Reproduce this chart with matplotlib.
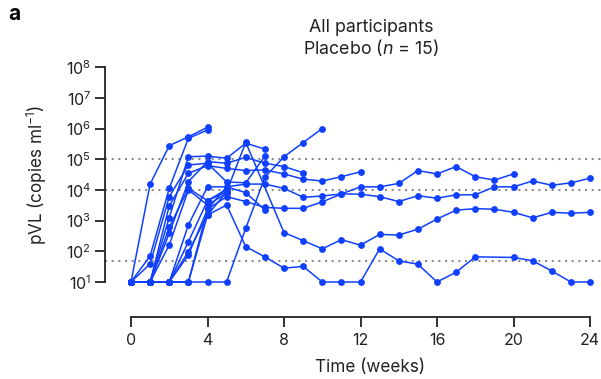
import numpy as np
import matplotlib
matplotlib.use("Agg")
import matplotlib.pyplot as plt

plt.rcParams['font.family'] = ['Inter', 'DejaVu Sans']
plt.rcParams['mathtext.fontset'] = 'custom'
plt.rcParams['mathtext.rm'] = 'Inter'
plt.rcParams['mathtext.it'] = 'Inter:italic'

# log10 pVL per participant, index = week (None = no sample)
p_A = [1, 4.19, 5.44, 5.73, 6.04]
p_B = [1, 1.85, 4.05, 5.68, 5.95]
p_C = [1, 1, 1, 1, 1, 1, 2.75, 4.41, 5.08, 5.54, 6.0]
p_D = [1, 1, 3.48, 4.54, 4.79, 4.70, 4.63, 4.65, 4.52, 4.35, 4.29, 4.43, 4.59]
p_E = [1, 1, 2.59, 4.27, 4.92, 4.87, 5.06, 4.87, 4.76, 4.56]
p_F = [1, 1, 3.10, 5.08, 5.10, 5.03, 5.52, 5.33]
p_G = [1, 1.59, 3.78, 4.81, 4.87, 4.26, 4.23, 5.10]
p_H = [1, 1, 1, 2.86, 4.10, 4.10, 3.91, 3.35]
p_I = [1, 1, 2.78, 4.05, 3.65, 3.94]
p_J = [1, 1, 2.21, 4.00, 3.51, 3.89]
p_K = [1, 1, 1, 2.31, 3.65, 4.02]
p_P = [1, 1, 1, 1.88, 3.37, 3.78, 3.62, 3.43, 3.40, 3.40, 3.61, 3.87, 4.10,
       4.10, 4.21, 4.63, 4.52, 4.76, 4.43, 4.32, 4.52]
p_Q = [1, 1, 1, 1, 3.37, 4.10, 4.19, 4.19, 4.05, 3.76, 3.80, 3.87, 3.86,
       3.78, 3.62, 3.81, 3.73, 3.84, 3.84, 4.10, 4.10, 4.29, 4.15, 4.23, 4.38]
p_T3 = [1, 1, 1, 1.99, 3.18, 3.94, 5.55, None, 2.61, 2.35, 2.08, 2.38, 2.20,
        2.55, 2.53, 2.72, 3.05, 3.34, 3.39, 3.37, 3.27, 3.09, 3.27, 3.24, 3.27]
p_T4 = [1, 1, 1, 1, 3.18, 3.51, 2.15, 1.82, 1.45, 1.51, 1, 1, 1,
        2.08, 1.69, 1.58, 1, 1.32, 1.82, None, 1.80, 1.69, 1.36, 1, 1]

participants = [p_A, p_B, p_C, p_D, p_E, p_F, p_G, p_H, p_I, p_J, p_K,
                p_P, p_Q, p_T3, p_T4]

thresholds = [1e5, 1e4, 50]
xticks = [0, 4, 8, 12, 16, 20, 24]
yticks = [1e1, 1e2, 1e3, 1e4, 1e5, 1e6, 1e7, 1e8]
ytick_labels = [r'$10^{%d}$' % i for i in range(1, 9)]

W, H = 601, 379
fig = plt.figure(figsize=(W / 100, H / 100), dpi=100)
l, r, b, t = 105, 597, 316.7, 67
ax = fig.add_axes([l / W, (H - b) / H, (r - l) / W, (b - t) / H])

blue = '#1040ff'
for p in participants:
    wk = [i for i, v in enumerate(p) if v is not None]
    vals = [10 ** p[i] for i in wk]
    ax.plot(wk, vals, '-o', color=blue, lw=1.1, ms=3.9, clip_on=False, zorder=3)

for th in thresholds:
    ax.axhline(th, xmin=0.0, xmax=1.01, color='#8c8c8c', lw=1.5,
               ls=(0, (1, 2.2)), clip_on=False, zorder=1)

ax.set_yscale('log')
x0 = (l - 131) / 19.125
x1 = (r - 131) / 19.125
ax.set_xlim(x0, x1)
ylo = 1 - (b - 282) / 30.7
yhi = 1 + (282 - t) / 30.7
ax.set_ylim(10 ** ylo, 10 ** yhi)

for s in ['top', 'right']:
    ax.spines[s].set_visible(False)
ax.spines['left'].set_bounds(1e1, 1e8)
ax.spines['bottom'].set_bounds(0, 24)
for s in ['left', 'bottom']:
    ax.spines[s].set_linewidth(1.3)
    ax.spines[s].set_color('#222222')

ax.set_xticks(xticks)
ax.set_xticklabels([str(x) for x in xticks])
ax.set_yticks(yticks)
ax.set_yticklabels(ytick_labels)
ax.yaxis.set_minor_locator(matplotlib.ticker.LogLocator(base=10, subs=np.arange(2, 10)))
ax.yaxis.set_minor_formatter(matplotlib.ticker.NullFormatter())
ax.tick_params(axis='both', which='major', length=7, width=1.3, color='#222222',
               labelsize=11.5, labelcolor='#222222')
ax.tick_params(axis='y', which='major', pad=3)
ax.tick_params(axis='x', which='major', pad=5)
ax.tick_params(axis='y', which='minor', length=4, width=1.0, color='#222222')

fig.text(371 / W, 1 - 32 / H, 'All participants', ha='center', va='baseline',
         fontsize=12.8, color='#222222')
fig.text(371 / W, 1 - 54 / H, r'Placebo ($\it{n}$ = 15)', ha='center', va='baseline',
         fontsize=12.8, color='#222222')
fig.text(370 / W, 1 - 368 / H, 'Time (weeks)', ha='center', va='center',
         fontsize=12.3, color='#222222')
fig.text(37 / W, 1 - 175 / H, r'pVL (copies ml$^{-1}$)', ha='center', va='center',
         rotation=90, fontsize=12.3, color='#222222')
fig.text(8 / W, 1 - 20 / H, 'a', ha='left', va='baseline', fontsize=15,
         fontweight='bold', color='black')

fig.savefig('out.png', dpi=100)
